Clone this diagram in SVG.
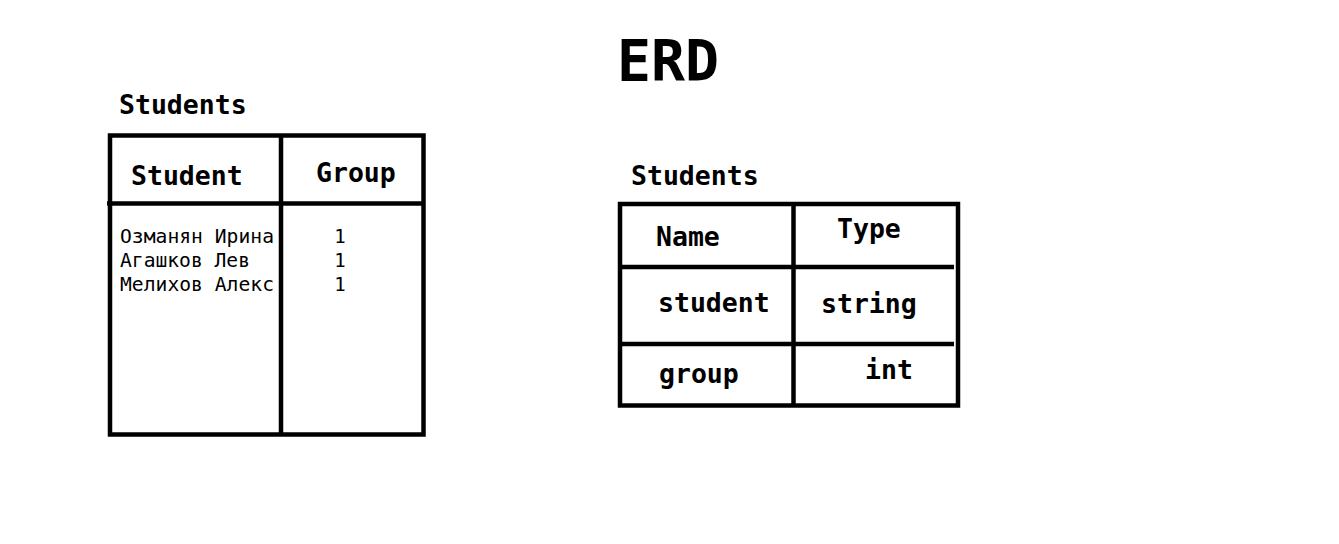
<svg xmlns="http://www.w3.org/2000/svg" width="1339" height="544" viewBox="0 0 1339 544">
<style>
.b{font-family:"DejaVu Sans Mono","Liberation Mono",monospace;font-weight:bold;fill:#000}
.h{font-size:26.5px}
.r{font-family:"DejaVu Sans Mono","Liberation Mono",monospace;font-size:19px;fill:#000}
.ln{stroke:#000;stroke-width:4.5;fill:none}
</style>
<rect width="1339" height="544" fill="#fff"/>
<text class="b" x="617" y="81" style="font-size:56.5px">ERD</text>
<g id="students-table">
<text class="b h" x="119" y="114">Students</text>
<rect class="ln" x="110" y="135.5" width="313.5" height="299"/>
<line class="ln" x1="281" y1="135.5" x2="281" y2="434.5"/>
<line class="ln" x1="107" y1="203.5" x2="423.5" y2="203.5"/>
<text class="b h" x="131" y="185">Student</text>
<text class="b h" x="316" y="182">Group</text>
<text class="r" x="120" y="243" textLength="154" lengthAdjust="spacingAndGlyphs">Озманян Ирина</text>
<text class="r" x="120" y="267" textLength="130" lengthAdjust="spacingAndGlyphs">Агашков Лев</text>
<text class="r" x="120" y="291" textLength="154" lengthAdjust="spacingAndGlyphs">Мелихов Алекс</text>
<text class="r" x="340" y="243" text-anchor="middle">1</text>
<text class="r" x="340" y="267" text-anchor="middle">1</text>
<text class="r" x="340" y="291" text-anchor="middle">1</text>
</g>
<g id="students-schema">
<text class="b h" x="631" y="185">Students</text>
<rect class="ln" x="620" y="204" width="338" height="201.5"/>
<line class="ln" x1="793.5" y1="204" x2="793.5" y2="405.5"/>
<line class="ln" x1="620" y1="267" x2="954" y2="267"/>
<line class="ln" x1="620" y1="344" x2="954" y2="344"/>
<text class="b h" x="656" y="246">Name</text>
<text class="b h" x="837" y="238">Type</text>
<text class="b h" x="658" y="312">student</text>
<text class="b h" x="821" y="313">string</text>
<text class="b h" x="659" y="383">group</text>
<text class="b h" x="865" y="379">int</text>
</g>
<g id="connectors"/>
</svg>
